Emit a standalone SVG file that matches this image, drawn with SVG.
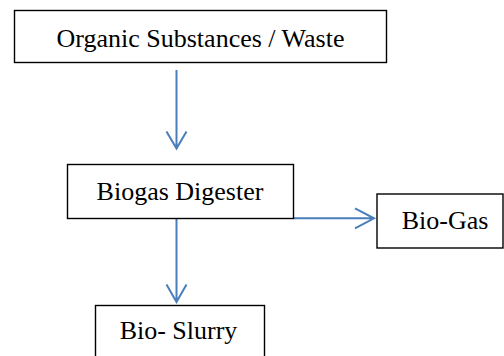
<svg xmlns="http://www.w3.org/2000/svg" width="504" height="356" viewBox="0 0 504 356">
<style>
.box{fill:#fff;stroke:#000;stroke-width:1.4}
.lbl{font-family:"Liberation Serif","Times New Roman",serif;font-size:26px;fill:#000}
.conn{fill:none;stroke:#4A7EBB;stroke-width:2}
</style>
<rect width="504" height="356" fill="#fff"/>
<g id="connectors">
<path class="conn" d="M176.5,70 V148.5 M166.5,131.5 L176.5,148.5 L186.5,131.5"/>
<path class="conn" d="M293.5,218.3 H374 M355,208.3 L374,218.3 L355,228.3"/>
<path class="conn" d="M176.5,218.5 V302 M166.5,284.5 L176.5,302 L186.5,284.5"/>
</g>
<g id="organic">
<rect class="box" x="14.5" y="10.5" width="372" height="52"/>
<text class="lbl" x="200.5" y="46.5" text-anchor="middle">Organic Substances / Waste</text>
</g>
<g id="digester">
<rect class="box" x="67.5" y="164.5" width="226" height="54"/>
<text class="lbl" x="180" y="200" text-anchor="middle">Biogas Digester</text>
</g>
<g id="biogas">
<rect class="box" x="377" y="194" width="126" height="54"/>
<text class="lbl" x="445" y="229" text-anchor="middle">Bio-Gas</text>
</g>
<g id="slurry">
<rect class="box" x="95.5" y="305.5" width="169" height="60"/>
<text class="lbl" x="178.5" y="338.5" text-anchor="middle">Bio- Slurry</text>
</g>
</svg>
